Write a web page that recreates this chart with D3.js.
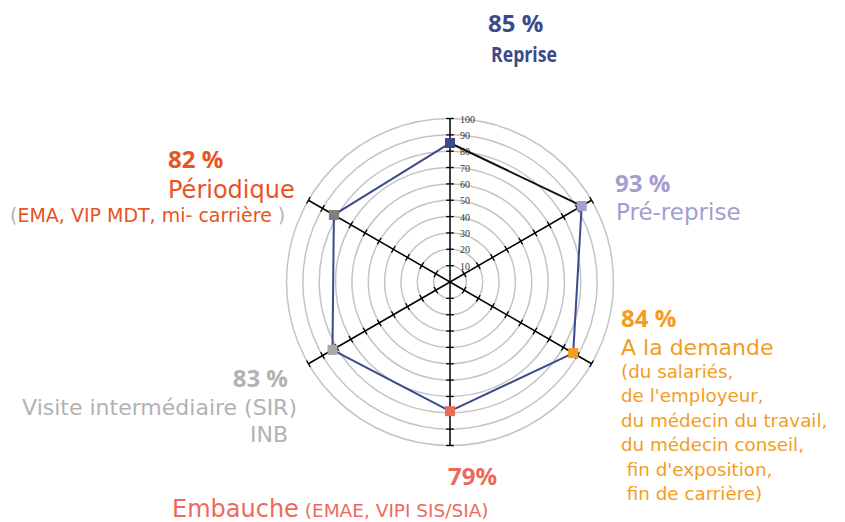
<!DOCTYPE html>
<html>
<head>
<meta charset="utf-8">
<script src="https://cdn.jsdelivr.net/npm/d3@7"></script>
<style>
  body { margin: 0; background: #fff; }
</style>
</head>
<body>
<div id="chart"></div>
<script>
var w = 845,
    h = 522;

var cx = 450,
    cy = 282,
    radius = 163.5;

// data
var categories = ["Reprise", "Pré-reprise", "A la demande", "Embauche", "Visite intermédiaire (SIR)", "Périodique"];
var values = [85, 93, 87, 79, 83, 82];
var percentLabels = ["85 %", "93 %", "84 %", "79%", "83 %", "82 %"];
var ringTicks = [10, 20, 30, 40, 50, 60, 70, 80, 90, 100];

var palette = {
    blue: '#3b4a8b',
    lavender: '#a39dd0',
    orange: '#f39c1e',
    salmon: '#ec6a5c',
    grey: '#b2b2b2',
    red: '#e9531f',
    ring: '#c4c4c4'
}

var markerColors = [palette.blue, palette.lavender, palette.orange, palette.salmon, '#a8a8a8', '#7f7f7f'];

var r = d3.scaleLinear().domain([0, 100]).range([0, radius]);
var angle = d3.scaleLinear().domain([0, categories.length]).range([0, 2 * Math.PI]);

function pt(i, v) {
    var a = angle(i);
    return [cx + r(v) * Math.sin(a), cy - r(v) * Math.cos(a)];
}

var svg = d3.select('#chart')
    .append('svg')
    .attr('width', w)
    .attr('height', h)

// rings
svg.selectAll('circle.ring')
    .data(ringTicks).enter().append('circle')
    .attr('class', 'ring')
    .attr('cx', cx)
    .attr('cy', cy)
    .attr('r', function(d) { return r(d) })
    .attr('fill', 'none')
    .attr('stroke', palette.ring)
    .attr('stroke-width', 1.5)

// axes
svg.selectAll('line.axis')
    .data(categories).enter().append('line')
    .attr('class', 'axis')
    .attr('x1', cx).attr('y1', cy)
    .attr('x2', function(d, i) { return pt(i, 100)[0] })
    .attr('y2', function(d, i) { return pt(i, 100)[1] })
    .attr('stroke', '#000')
    .attr('stroke-width', 1.5)

// ticks on every axis
var tickData = [];
categories.forEach(function(c, i) {
    ringTicks.forEach(function(v) { tickData.push({ i: i, v: v }) })
})

svg.selectAll('line.tick')
    .data(tickData).enter().append('line')
    .attr('class', 'tick')
    .each(function(d) {
        var p = pt(d.i, d.v), a = angle(d.i);
        var dx = Math.cos(a) * 3.8, dy = Math.sin(a) * 3.8;
        d3.select(this)
            .attr('x1', p[0] - dx).attr('y1', p[1] - dy)
            .attr('x2', p[0] + dx).attr('y2', p[1] + dy)
    })
    .attr('stroke', '#000')
    .attr('stroke-width', 1.3)

// tick labels on the vertical axis
svg.selectAll('text.ticklabel')
    .data(ringTicks).enter().append('text')
    .attr('class', 'ticklabel')
    .attr('x', cx + 10)
    .attr('y', function(d) { return cy - r(d) + 4 })
    .attr('font-family', 'Liberation Serif')
    .attr('font-size', 10)
    .attr('fill', '#333')
    .text(function(d) { return d })

// series line, first segment drawn in black
var segs = values.map(function(v, i) {
    var j = (i + 1) % values.length;
    return { a: pt(i, v), b: pt(j, values[j]), first: i === 0 };
})

svg.selectAll('line.seg')
    .data(segs).enter().append('line')
    .attr('class', 'seg')
    .attr('x1', function(d) { return d.a[0] })
    .attr('y1', function(d) { return d.a[1] })
    .attr('x2', function(d) { return d.b[0] })
    .attr('y2', function(d) { return d.b[1] })
    .attr('stroke', function(d) { return d.first ? '#111' : palette.blue })
    .attr('stroke-width', 2)

// markers
var ms = 10;
svg.selectAll('rect.marker')
    .data(values).enter().append('rect')
    .attr('class', 'marker')
    .attr('x', function(d, i) { return pt(i, d)[0] - ms / 2 })
    .attr('y', function(d, i) { return pt(i, d)[1] - ms / 2 })
    .attr('width', ms)
    .attr('height', ms)
    .attr('fill', function(d, i) { return markerColors[i] })

// category labels
var bold = 'Open Sans',
    reg = 'DejaVu Sans';

function put(x, y, txt, opts) {
    var t = svg.append('text')
        .attr('x', x).attr('y', y)
        .attr('font-family', opts.family || reg)
        .attr('font-size', opts.size)
        .attr('font-weight', opts.weight || 'normal')
        .attr('fill', opts.color)
        .attr('text-anchor', opts.anchor || 'start')
        .style('white-space', 'pre')
        .text(txt)
    if (opts.len) t.attr('textLength', opts.len).attr('lengthAdjust', 'spacingAndGlyphs')
    return t
}

// Reprise
put(488, 32, percentLabels[0], { family: bold, weight: 'bold', size: 24, color: palette.blue })
put(491, 62, categories[0], { family: bold, weight: 'bold', size: 21, color: palette.blue, len: 66 })

// Pré-reprise
put(615, 192, percentLabels[1], { family: bold, weight: 'bold', size: 24, color: palette.lavender })
put(616, 220, categories[1], { size: 23, color: palette.lavender })

// A la demande
put(621, 327, percentLabels[2], { family: bold, weight: 'bold', size: 24, color: palette.orange })
put(621, 355, categories[2], { size: 22, color: palette.orange })
var demandeLines = ["(du salariés,", "de l'employeur,", "du médecin du travail,", "du médecin conseil,", " fin d'exposition,", " fin de carrière)"];
demandeLines.forEach(function(s, k) {
    put(621, 378 + k * 24.4, s, { size: 18.3, color: palette.orange })
})

// Embauche
put(448, 485, percentLabels[3], { family: bold, weight: 'bold', size: 24, color: palette.salmon })
var emb = put(172, 517, '', { size: 24, color: palette.salmon })
emb.append('tspan').text(categories[3])
emb.append('tspan').attr('font-size', 18.5).text(' (EMAE, VIPI SIS/SIA)')

// Visite intermédiaire
put(288, 387, percentLabels[4], { family: bold, weight: 'bold', size: 24, color: palette.grey, anchor: 'end' })
put(297, 415, categories[4], { size: 22, color: palette.grey, anchor: 'end' })
put(288, 442, 'INB', { size: 22, color: palette.grey, anchor: 'end' })

// Périodique
put(168, 168, percentLabels[5], { family: bold, weight: 'bold', size: 24, color: palette.red })
put(168, 198, categories[5], { size: 24, color: palette.red })
var per = put(10, 222, '', { size: 19, color: palette.red })
per.append('tspan').attr('fill', palette.grey).text('(')
per.append('tspan').text('EMA, VIP MDT, mi- carrière ')
per.append('tspan').attr('fill', palette.grey).text(')')
</script>
</body>
</html>
